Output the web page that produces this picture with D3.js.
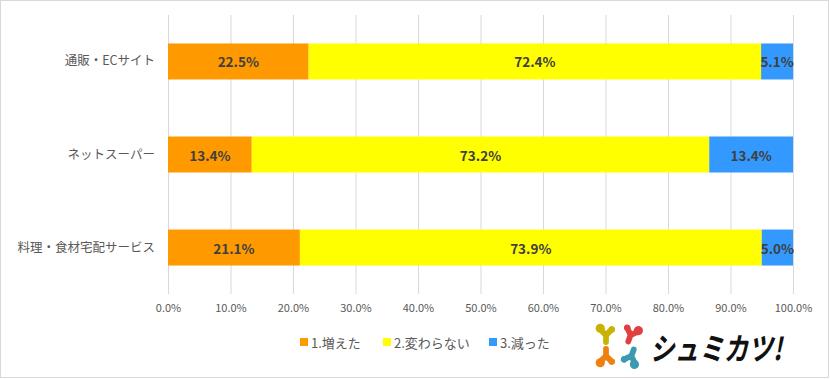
<!DOCTYPE html>
<html><head><meta charset="utf-8">
<script src="https://cdn.jsdelivr.net/npm/d3@7"></script>
<style>
html,body{margin:0;padding:0;background:#fff;}
svg{display:block;font-family:"Noto Sans CJK JP","Noto Sans",sans-serif;}
</style></head>
<body>
<svg id="c" width="830" height="379"></svg>
<script>
const categories = ["通販・ECサイト", "ネットスーパー", "料理・食材宅配サービス"];
const seriesNames = ["1.増えた", "2.変わらない", "3.減った"];
const increased = [22.5, 13.4, 21.1];
const unchanged = [72.4, 73.2, 73.9];
const decreased = [5.1, 13.4, 5.0];
const tickValues = [0, 10, 20, 30, 40, 50, 60, 70, 80, 90, 100];
const colors = ["#FF9900", "#FFFF00", "#3399FF"];

const svg = d3.select("#c");
const W = 830, H = 379;
svg.append("rect").attr("x",0.5).attr("y",0.5).attr("width",W-2).attr("height",H-2)
  .attr("fill","#fff").attr("stroke","#d9d9d9");

const x = d3.scaleLinear().domain([0,100]).range([168,793]);
const y = d3.scaleBand().domain(categories).range([15,294]).paddingInner(0.613).paddingOuter(0.306);

svg.append("g").selectAll("line").data(tickValues).join("line")
  .attr("x1",d=>x(d)+0.5).attr("x2",d=>x(d)+0.5).attr("y1",15).attr("y2",294)
  .attr("stroke","#d9d9d9").attr("stroke-width",1);

const xa = svg.append("g").attr("transform","translate(0,294)")
  .call(d3.axisBottom(x).tickValues(tickValues).tickSize(0).tickPadding(10).tickFormat(d=>d.toFixed(1)+"%"));
xa.select(".domain").remove();
xa.selectAll("text").attr("fill","#595959").style("font-size","11px").style("font-family","'Noto Sans CJK JP',sans-serif");

const ya = svg.append("g").attr("transform","translate(168,0)")
  .call(d3.axisLeft(y).tickSize(0).tickPadding(13));
ya.select(".domain").remove();
ya.selectAll("text").attr("fill","#595959").style("font-size","12.5px").style("font-family","'Noto Sans CJK JP',sans-serif");

const series = [increased, unchanged, decreased];
const rows = categories.map((c,i)=>{
  let acc = 0;
  return series.map((s,k)=>{ const v=s[i]; const r={cat:c,k,v,x0:acc,x1:acc+v}; acc+=v; return r; });
});
const segs = rows.flat();
svg.append("g").selectAll("rect").data(segs).join("rect")
  .attr("x",d=>x(d.x0)).attr("width",d=>x(d.x1)-x(d.x0))
  .attr("y",d=>y(d.cat)).attr("height",y.bandwidth())
  .attr("fill",d=>colors[d.k]);

svg.append("g").selectAll("text").data(segs).join("text")
  .attr("x",d=>x((d.x0+d.x1)/2)).attr("y",d=>y(d.cat)+y.bandwidth()/2)
  .attr("text-anchor","middle").attr("dominant-baseline","central")
  .attr("fill","#404040").style("font-size","13.5px").style("font-weight","bold")
  .style("font-family","'Noto Sans CJK JP',sans-serif")
  .text(d=>d.v.toFixed(1)+"%");

const legX = [300, 383, 489];
const lg = svg.append("g").selectAll("g").data(seriesNames).join("g")
  .attr("transform",(d,i)=>`translate(${legX[i]},342)`);
lg.append("rect").attr("x",0).attr("y",-4).attr("width",8).attr("height",8).attr("fill",(d,i)=>colors[i]);
lg.append("text").attr("x",11).attr("y",0).attr("dominant-baseline","central")
  .attr("fill","#595959").style("font-size","13px").text(d=>d);

// logo
const logo = svg.append("g");
const icon = (cx, cy, rot, sx, col) => {
  const g = logo.append("g").attr("transform",`translate(${cx},${cy}) rotate(${rot}) scale(${sx*1.15},1.15)`);
  g.append("path").attr("d","M-5,-4 L0,1 L5,-4 M0,1 L0,7")
   .attr("fill","none").attr("stroke",col).attr("stroke-width",5).attr("stroke-linecap","round").attr("stroke-linejoin","round");
  g.append("circle").attr("cx",-5).attr("cy",-5).attr("r",4).attr("fill",col);
  g.append("circle").attr("cx",5).attr("cy",-4).attr("r",2.8).attr("fill",col);
};
icon(606,334,0,1,"#C8B400");
icon(631,334,20,-1,"#E04040");
icon(606,357,180,-1,"#EE8010");
icon(631,357,200,1,"#3A9AB0");
logo.append("text").attr("x",650).attr("y",346).attr("dominant-baseline","central")
  .attr("fill","#111").attr("textLength",132).attr("lengthAdjust","spacingAndGlyphs")
  .style("font-size","31px").style("font-style","italic").style("font-weight","bold")
  .style("font-family","'Noto Sans CJK JP',sans-serif").text("シュミカツ!");
</script>
</body></html>
